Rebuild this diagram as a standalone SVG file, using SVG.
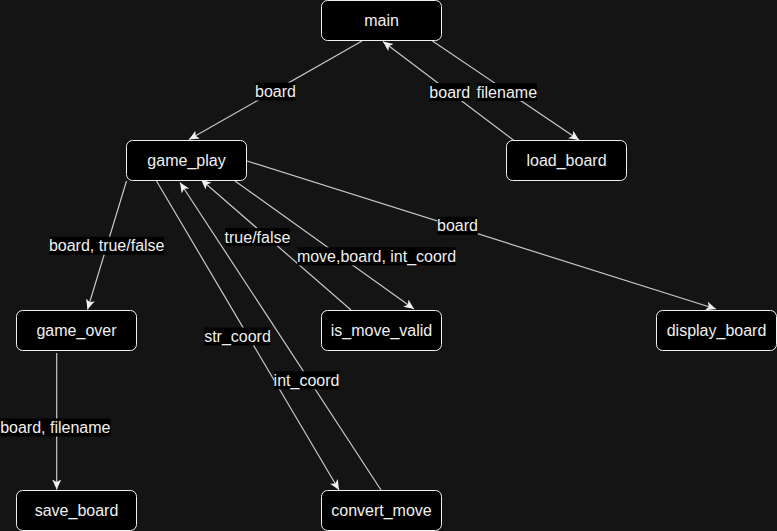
<svg xmlns="http://www.w3.org/2000/svg" width="777" height="531" viewBox="0 0 777 531">
<style>
.bg{fill:#141414}
.node rect{fill:#000;stroke:#f0f0f0;stroke-width:1}
.node text{fill:#f0f0f0;font-family:"Liberation Sans",Arial,sans-serif;font-size:16px;text-anchor:middle}
.edge{stroke:#c8c8c8;stroke-width:1.2;fill:none;marker-end:url(#arr)}
.lbg{fill:#000}
.lbl{fill:#f0f0f0;font-family:"Liberation Sans",Arial,sans-serif;font-size:16px;text-anchor:middle}
</style>
<defs>
<marker id="arr" markerUnits="userSpaceOnUse" markerWidth="12" markerHeight="10" refX="10" refY="4.5" orient="auto">
<path d="M0,0 L10,4.5 L0,9 L2.5,4.5 z" fill="#f0f0f0"/>
</marker>
</defs>
<rect class="bg" x="0" y="0" width="777" height="531"/>
<g id="connectors">
<line class="edge" x1="362" y1="41" x2="189" y2="139.5"/>
<line class="edge" x1="516" y1="142" x2="383" y2="41.5"/>
<line class="edge" x1="432.5" y1="41" x2="579" y2="140"/>
<line class="edge" x1="126.5" y1="181" x2="87.5" y2="309.5"/>
<line class="edge" x1="156.5" y1="181" x2="339" y2="490"/>
<line class="edge" x1="381" y1="490" x2="180" y2="182.5"/>
<line class="edge" x1="351" y1="310" x2="201" y2="179.5"/>
<line class="edge" x1="235" y1="181" x2="414" y2="309"/>
<line class="edge" x1="247" y1="161" x2="716" y2="309"/>
<line class="edge" x1="56.7" y1="353" x2="56.7" y2="489.5"/>
<g id="edge-labels">
<rect class="lbg" x="255.3" y="82.5" width="40.5" height="18"/><text class="lbl" x="275.5" y="97">board</text>
<rect class="lbg" x="429.3" y="83" width="41" height="18"/><text class="lbl" x="449.8" y="97.5">board</text>
<rect class="lbg" x="476.7" y="83" width="60.3" height="18"/><text class="lbl" x="506.8" y="97.5">filename</text>
<rect class="lbg" x="49.3" y="236.7" width="114.8" height="18"/><text class="lbl" x="106.7" y="251.2">board, true/false</text>
<rect class="lbg" x="225" y="228" width="65" height="18"/><text class="lbl" x="257.5" y="242.5">true/false</text>
<rect class="lbg" x="297.3" y="247.3" width="158.4" height="18"/><text class="lbl" x="376.5" y="261.8">move,board, int_coord</text>
<rect class="lbg" x="437.3" y="216.8" width="40.5" height="18"/><text class="lbl" x="457.5" y="231.3">board</text>
<rect class="lbg" x="204.3" y="327.5" width="66.4" height="18"/><text class="lbl" x="237.5" y="342">str_coord</text>
<rect class="lbg" x="274" y="371.3" width="65" height="18"/><text class="lbl" x="306.5" y="385.8">int_coord</text>
<rect class="lbg" x="0" y="418.5" width="110.7" height="18"/><text class="lbl" x="55.3" y="433">board, filename</text>
</g>
</g>
<g id="main" class="node"><rect x="321.5" y="0.5" width="120" height="40" rx="6"/><text x="381.5" y="26">main</text></g>
<g id="load_board" class="node"><rect x="506.5" y="140.5" width="120" height="40" rx="6"/><text x="566.5" y="166">load_board</text></g>
<g id="game_play" class="node"><rect x="126.5" y="140.5" width="120" height="40" rx="6"/><text x="186.5" y="166">game_play</text></g>
<g id="game_over" class="node"><rect x="16.5" y="310.5" width="120" height="40" rx="6"/><text x="76.5" y="336">game_over</text></g>
<g id="is_move_valid" class="node"><rect x="321.5" y="310.5" width="120" height="40" rx="6"/><text x="381.5" y="336">is_move_valid</text></g>
<g id="display_board" class="node"><rect x="656.5" y="310.5" width="120" height="40" rx="6"/><text x="716.5" y="336">display_board</text></g>
<g id="save_board" class="node"><rect x="16.5" y="490.5" width="120" height="40" rx="6"/><text x="76.5" y="516">save_board</text></g>
<g id="convert_move" class="node"><rect x="321.5" y="490.5" width="120" height="40" rx="6"/><text x="381.5" y="516">convert_move</text></g>
</svg>
